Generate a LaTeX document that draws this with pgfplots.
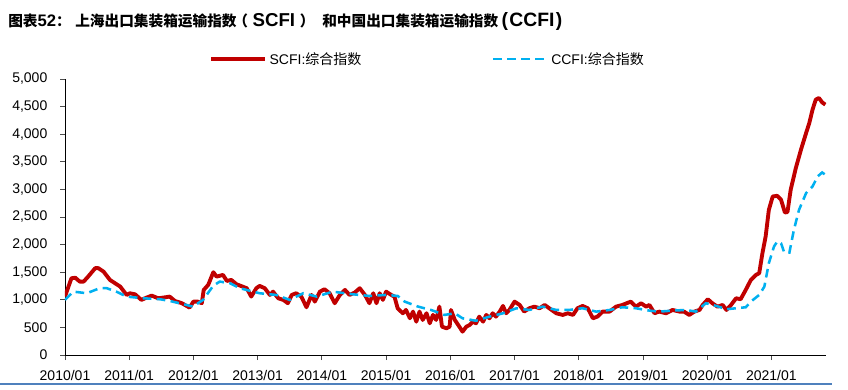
\documentclass[border=0pt]{standalone}
\usepackage{fontspec}
\setmainfont{Liberation Sans}
\newfontfamily\cjk{Noto Sans CJK SC}
\usepackage{pgfplots}
\pgfplotsset{compat=1.18}
\definecolor{scfi}{RGB}{192,0,0}
\definecolor{ccfi}{RGB}{0,176,240}
\definecolor{sepc}{RGB}{79,129,189}
\newcommand{\cj}[1]{{\fontsize{11}{12}\selectfont\cjk\bfseries #1}}
\newcommand{\lt}[2][14]{{\fontsize{#1}{15}\selectfont\bfseries #2}}
\begin{document}
\begin{tikzpicture}
\useasboundingbox (0,0) rectangle (636pt,291.75pt);
\draw[sepc, line width=0.9pt] (0,3.75pt) -- (624pt,3.75pt);
\begin{scope}[every node/.style={anchor=base west, inner sep=0pt}]
\node at (6pt,271.5pt) {\cj{图表}\lt[12.5]{52}\cj{：}};
\node at (56.25pt,271.5pt) {\cj{上海出口集装箱运输指数}};
\node at (174.75pt,271.5pt) {\cj{（}\hspace{3.5pt}\lt{SCFI}\hspace{3.5pt}\cj{）}};
\node at (241.5pt,271.5pt) {\cj{和中国出口集装箱运输指数}};
\node at (376pt,271.5pt) {\lt[14.5]{(\hspace{1pt}CCFI\hspace{1pt})}};
\end{scope}
\begin{axis}[
  at={(48.75pt,25.5pt)}, anchor=south west, scale only axis,
  width=570.75pt, height=207pt,
  xmin=2010, xmax=2021.85, ymin=0, ymax=5000,
  axis x line*=bottom, axis y line*=left,
  axis line style={black, line width=0.6pt},
  xtick={2010,2011,...,2021},
  xticklabels={2010/01,2011/01,2012/01,2013/01,2014/01,2015/01,2016/01,2017/01,2018/01,2019/01,2020/01,2021/01},
  ytick={0,500,...,5000},
  scaled y ticks=false,
  /pgf/number format/.cd, 1000 sep={,}, assume math mode=true, /pgfplots/.cd,
  tick label style={font=\fontsize{10.5}{12}\selectfont},
  xticklabel style={yshift=-4.2pt},
  yticklabel style={xshift=-6pt},
  tick align=outside, major tick length=3.75pt,
  tick style={black!70, line width=0.6pt},
  legend style={at={(0.189,1.072)}, anchor=west, draw=none, fill=none, inner sep=0pt,
    font=\fontsize{10.5}{12}\selectfont, legend columns=2,
    /tikz/every even column/.append style={column sep=96pt}},
  legend cell align=left,
  legend image code/.code={\draw[#1] (0pt,0pt) -- (40.5pt,0pt);},
]
\addplot[scfi, line width=2.9pt, line join=round] coordinates {
(2010.00,1060)(2010.10,1390)(2010.16,1400)(2010.23,1330)(2010.29,1330)(2010.36,1420)(2010.47,1573)(2010.52,1573)(2010.60,1511)(2010.70,1360)(2010.86,1239)(2010.96,1088)
(2011.01,1118)(2011.09,1100)(2011.19,998)(2011.27,1040)(2011.35,1076)(2011.45,1028)(2011.53,1040)(2011.63,1058)(2011.71,980)(2011.82,938)(2011.94,858)
(2012.00,967)(2012.07,967)(2012.13,938)(2012.16,1179)(2012.23,1270)(2012.31,1500)(2012.36,1420)(2012.46,1451)(2012.52,1342)(2012.59,1360)(2012.67,1282)(2012.83,1210)(2012.90,1058)(2012.98,1210)
(2013.03,1252)(2013.11,1210)(2013.19,1088)(2013.24,1148)(2013.32,1028)(2013.40,998)(2013.47,938)(2013.53,1088)(2013.60,1119)(2013.68,1058)(2013.76,865)(2013.84,1088)(2013.89,967)(2013.97,1148)
(2014.04,1192)(2014.12,1119)(2014.20,938)(2014.28,1088)(2014.36,1179)(2014.43,1088)(2014.51,1130)(2014.59,1210)(2014.67,1088)(2014.74,938)(2014.80,1119)(2014.85,938)(2014.90,1119)(2014.95,998)
(2015.00,1148)(2015.08,1088)(2015.13,1058)(2015.18,847)(2015.26,756)(2015.31,816)(2015.37,666)(2015.42,786)(2015.47,604)(2015.52,786)(2015.57,635)(2015.63,756)(2015.68,575)(2015.73,726)(2015.78,635)(2015.83,876)(2015.87,514)(2015.94,484)(2015.99,514)
(2016.01,816)(2016.07,635)(2016.14,514)(2016.19,423)(2016.25,514)(2016.30,543)(2016.35,604)(2016.40,575)(2016.45,695)(2016.51,604)(2016.56,726)(2016.61,665)(2016.66,756)(2016.71,695)(2016.77,786)(2016.82,889)(2016.87,756)(2016.92,816)
(2017.00,967)(2017.08,907)(2017.15,786)(2017.23,847)(2017.31,876)(2017.39,847)(2017.47,907)(2017.54,847)(2017.65,756)(2017.75,726)(2017.83,756)(2017.91,726)(2017.98,847)
(2018.06,889)(2018.14,847)(2018.22,665)(2018.29,695)(2018.37,786)(2018.48,786)(2018.58,876)(2018.68,907)(2018.81,967)(2018.89,876)(2018.97,937)
(2019.05,876)(2019.10,907)(2019.18,756)(2019.25,786)(2019.36,756)(2019.46,816)(2019.57,786)(2019.64,786)(2019.72,726)(2019.80,786)(2019.88,816)(2019.93,907)
(2020.01,1010)(2020.08,938)(2020.16,876)(2020.24,907)(2020.30,816)(2020.37,905)(2020.45,1028)(2020.52,1010)(2020.60,1179)(2020.68,1360)(2020.76,1451)(2020.81,1482)(2020.86,1845)(2020.91,2146)(2020.96,2630)
(2021.02,2872)(2021.09,2884)(2021.15,2812)(2021.21,2581)(2021.25,2590)(2021.30,2993)(2021.38,3387)(2021.46,3719)(2021.54,4021)(2021.59,4203)(2021.64,4444)(2021.69,4626)(2021.74,4656)(2021.79,4577)(2021.84,4535)
};
\addlegendentry{SCFI:{\cjk 综合指数}}
\addplot[ccfi, line width=1.9pt, dash pattern=on 6.5pt off 4pt] coordinates {
(2010.00,998)(2010.13,1148)(2010.34,1119)(2010.54,1210)(2010.65,1210)(2010.80,1148)(2010.96,1058)
(2011.22,1028)(2011.48,1010)(2011.63,980)(2011.89,907)(2011.99,876)
(2012.15,998)(2012.31,1257)(2012.41,1330)(2012.57,1300)(2012.72,1210)
(2013.03,1119)(2013.29,1088)(2013.50,998)(2013.71,1119)(2013.92,1058)
(2014.17,1148)(2014.48,1100)(2014.74,1070)
(2015.00,1088)(2015.18,1070)(2015.29,967)(2015.50,876)(2015.70,816)(2015.91,726)
(2016.07,756)(2016.19,665)(2016.40,620)(2016.61,695)(2016.82,756)
(2017.03,847)(2017.23,816)(2017.44,876)(2017.65,816)(2017.85,816)
(2018.06,847)(2018.27,786)(2018.48,816)(2018.68,865)(2018.89,847)
(2019.10,804)(2019.25,786)(2019.46,804)(2019.67,816)(2019.82,786)(2019.98,938)
(2020.14,889)(2020.30,829)(2020.45,847)(2020.60,865)(2020.70,986)(2020.81,1088)(2020.89,1239)(2020.96,1663)
(2021.04,1965)(2021.09,2055)(2021.15,2025)(2021.20,1856)(2021.28,1856)(2021.35,2268)(2021.43,2630)(2021.54,2933)(2021.64,3053)(2021.72,3235)(2021.79,3307)(2021.84,3265)
};
\addlegendentry{CCFI:{\cjk 综合指数}}
\end{axis}
\end{tikzpicture}
\end{document}
